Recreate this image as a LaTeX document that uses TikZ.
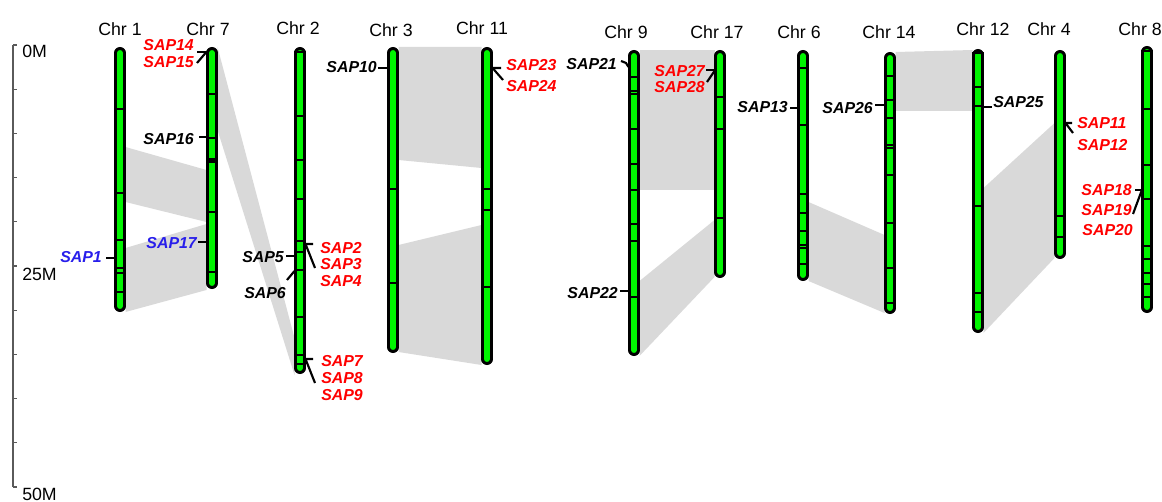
\documentclass[tikz,border=0pt]{standalone}
\usepackage{fontspec}
\setmainfont{Liberation Sans}
\definecolor{chrgreen}{RGB}{0,245,0}
\definecolor{synt}{RGB}{217,217,217}
\definecolor{sapred}{RGB}{255,0,0}
\definecolor{sapblue}{RGB}{40,30,235}
\definecolor{axisgray}{RGB}{90,90,90}
\newcommand\chromo[5]{%
  \draw[line width=8.7pt, line cap=round] (#2,#3+5.8) -- (#2,#4-5.8);
  \draw[line width=4.1pt, line cap=round, chrgreen] (#2,#3+5.8) -- (#2,#4-5.8);
  \foreach \b in {#5} {\draw[line width=2.1pt] (#2-5.8,\b) -- (#2+5.8,\b);}
  \coordinate (#1) at (#2,#3);
}
\tikzset{
  chrlab/.style={font=\fontsize{13.3}{15}\selectfont, anchor=base, inner sep=0pt},
  axlab/.style={font=\fontsize{13.3}{15}\selectfont, anchor=base west, inner sep=0pt},
  sap/.style={font=\fontsize{11.9}{14}\selectfont\bfseries\itshape, inner sep=0pt},
  sapE/.style={sap, anchor=base east},
  sapW/.style={sap, anchor=base west},
  mk/.style={line width=1.6pt},
  syn/.style={fill=synt, draw=none}
}
\begin{document}
\begin{tikzpicture}[x=0.75pt,y=-0.75pt]
\useasboundingbox (0,0) rectangle (1162,502);
% synteny blocks
\fill[syn] (125.5,147) -- (125.5,202) -- (206.5,222) -- (206.5,170) -- cycle;
\fill[syn] (125.5,248) -- (125.5,312) -- (206.5,290) -- (206.5,224) -- cycle;
\fill[syn] (217.5,47) -- (217.5,130) -- (294.5,375) -- (294.5,338) -- cycle;
\fill[syn] (398.5,47) -- (398.5,160) -- (481.5,168) -- (481.5,47) -- cycle;
\fill[syn] (398.5,245) -- (398.5,352) -- (481.5,365) -- (481.5,225) -- cycle;
\fill[syn] (639.5,50) -- (639.5,190) -- (714.5,190) -- (714.5,50) -- cycle;
\fill[syn] (639.5,281) -- (639.5,356) -- (714.5,277) -- (714.5,220) -- cycle;
\fill[syn] (808.5,202) -- (808.5,281) -- (884.5,313) -- (884.5,235) -- cycle;
\fill[syn] (895.5,52) -- (895.5,111) -- (972.5,111) -- (972.5,50) -- cycle;
\fill[syn] (983.5,188) -- (983.5,333) -- (1054.5,258) -- (1054.5,123) -- cycle;
% axis
\draw[axisgray, line width=1.1pt] (13,45) -- (13,487);
\foreach \k in {0,...,10} \draw[axisgray, line width=0.8pt] (13,45+44.2*\k) -- (16.5,45+44.2*\k);
\node[axlab] (m0) at (22,58) {0M};
\node[axlab] (m25) at (22,280) {25M};
\node[axlab] (m50) at (22,500) {50M};
% chromosomes
\chromo{c1}{120}{47}{312}{109,193,240,268,273,292}
\chromo{c7}{212}{47}{289}{94,138,159.5,162,212,272}
\chromo{c2}{300}{47}{374}{52,116,160,199,241,252,270,317,355,364}
\chromo{c3}{393}{47}{353}{189,283}
\chromo{c11}{487}{47}{365}{189,210,287}
\chromo{c9}{634}{50}{356}{77,91,94,129,164,190,224,241,297}
\chromo{c17}{720}{50}{278}{97,129,218}
\chromo{c6}{803}{50}{281}{68,125,194,213,231,245,248,264}
\chromo{c14}{890}{52}{314}{76,100,118,145,148,175,223,268,303}
\chromo{c12}{978}{49}{333}{53,87,106,206,293,312}
\chromo{c4}{1060}{50}{259}{216,237}
\chromo{c8}{1147}{46}{313}{51,109,165,199,246,259,273,284,297}
% chromosome labels
\node[chrlab] (l1) at (120,36) {Chr 1};
\node[chrlab] (l7) at (208,36) {Chr 7};
\node[chrlab] (l2) at (298,35) {Chr 2};
\node[chrlab] (l3) at (391,37) {Chr 3};
\node[chrlab] (l11) at (482,35) {Chr 11};
\node[chrlab] (l9) at (626,39) {Chr 9};
\node[chrlab] (l17) at (717,39) {Chr 17};
\node[chrlab] (l6) at (799,39) {Chr 6};
\node[chrlab] (l14) at (889,39) {Chr 14};
\node[chrlab] (l12) at (983,36) {Chr 12};
\node[chrlab] (l4) at (1049,36) {Chr 4};
\node[chrlab] (l8) at (1140,36) {Chr 8};
% gene labels
\node[sapE, sapred] (s14) at (194,51) {SAP14};
\node[sapE, sapred] (s15) at (194,68) {SAP15};
\node[sapE] (s16) at (194,145) {SAP16};
\node[sapE, sapblue] (s17) at (197,248) {SAP17};
\node[sapE, sapblue] (s1) at (102,262) {SAP1};
\node[sapE] (s5) at (284,262) {SAP5};
\node[sapE] (s6) at (286,298) {SAP6};
\node[sapW, sapred] (s2) at (320,253) {SAP2};
\node[sapW, sapred] (s3) at (320,269) {SAP3};
\node[sapW, sapred] (s4) at (320,286) {SAP4};
\node[sapW, sapred] (s7) at (321,366) {SAP7};
\node[sapW, sapred] (s8) at (321,383) {SAP8};
\node[sapW, sapred] (s9) at (321,400) {SAP9};
\node[sapE] (s10) at (377,73) {SAP10};
\node[sapW, sapred] (s23) at (506,71) {SAP23};
\node[sapW, sapred] (s24) at (506,92) {SAP24};
\node[sapE] (s21) at (617,70) {SAP21};
\node[sapE, sapred] (s27) at (705,77) {SAP27};
\node[sapE, sapred] (s28) at (705,93) {SAP28};
\node[sapE] (s22) at (618,298) {SAP22};
\node[sapE] (s13) at (788,113) {SAP13};
\node[sapE] (s26) at (873,114) {SAP26};
\node[sapW] (s25) at (993,108) {SAP25};
\node[sapW, sapred] (s11) at (1077,129) {SAP11};
\node[sapW, sapred] (s12) at (1077,151) {SAP12};
\node[sapE, sapred] (s18) at (1132,196) {SAP18};
\node[sapE, sapred] (s19) at (1132,215) {SAP19};
\node[sapE, sapred] (s20) at (1133,235) {SAP20};
% marker lines
\draw[mk] (197,52) -- (206.5,52);
\draw[mk] (197,63) -- (205.5,53);
\draw[mk] (199,137) -- (206.5,137);
\draw[mk] (198,242) -- (206.5,242);
\draw[mk] (106,258) -- (114.5,258);
\draw[mk] (286,256) -- (294.5,256);
\draw[mk] (287,280) -- (294.5,271);
\draw[mk] (313,244) -- (305.5,244) -- (315,268);
\draw[mk] (313,359) -- (305.5,359) -- (315,383);
\draw[mk] (378,68) -- (387.5,68);
\draw[mk] (501,68) -- (492.5,68) -- (503,80);
\draw[mk] (621,61) -- (626,63) -- (628.5,67);
\draw[mk] (706,70) -- (714.5,70);
\draw[mk] (707,82) -- (714.5,71);
\draw[mk] (620,291) -- (628.5,291);
\draw[mk] (790,108) -- (797.5,108);
\draw[mk] (875,105) -- (884.5,105);
\draw[mk] (983.5,107) -- (992,107);
\draw[mk] (1072,123) -- (1065.5,123) -- (1073,133);
\draw[mk] (1135,190) -- (1141.5,190);
\draw[mk] (1133,214) -- (1141.5,191);
\end{tikzpicture}
\end{document}
